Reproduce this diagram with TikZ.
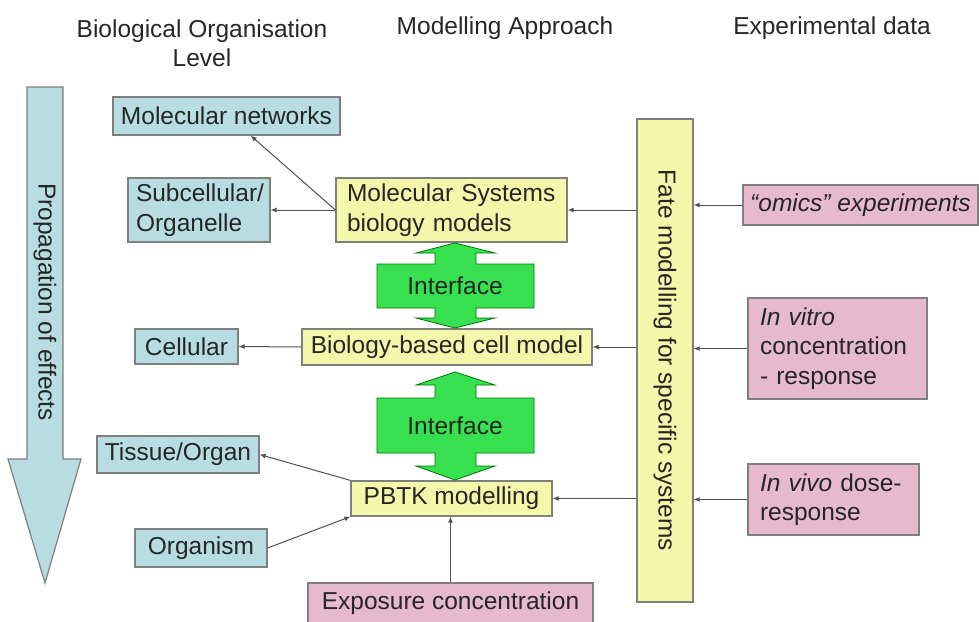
\documentclass[tikz,border=0pt]{standalone}
\usepackage{fontspec}
\setmainfont{Liberation Sans}
\usetikzlibrary{arrows.meta,positioning}
\definecolor{boxblue}{HTML}{B7DDE2}
\definecolor{boxyellow}{HTML}{F4F6AA}
\definecolor{boxpink}{HTML}{E6B9CD}
\definecolor{ifgreen}{HTML}{36E04F}
\definecolor{edgegray}{HTML}{7F7F7F}
\definecolor{txt}{HTML}{262626}
\definecolor{linegray}{HTML}{505050}

\begin{document}
\begin{tikzpicture}[x=1pt,y=-1pt,
  every node/.style={font=\fontsize{24.5}{29.5}\selectfont, text=txt},
  level/.style={draw=edgegray, fill=boxblue, line width=1.2pt, inner sep=0pt},
  model/.style={draw=edgegray, fill=boxyellow, line width=1.2pt, inner sep=0pt},
  data/.style={draw=edgegray, fill=boxpink, line width=1.2pt, inner sep=0pt},
  iface/.style={draw=green!45!black, fill=ifgreen, line width=0.8pt},
  link/.style={draw=linegray, line width=1pt, -{Latex[length=6pt,width=5pt]}}]
\useasboundingbox (0,0) rectangle (979,621);
% column headings
\node[align=center] (hlevel) at (202,43) {Biological Organisation\\Level};
\node (hmodel) at (505,28) {Modelling Approach};
\node (hdata) at (832,28) {Experimental data};
% propagation arrow
\draw[draw=edgegray, fill=boxblue, line width=1.2pt] (27,87) -- (63,87) -- (63,459) -- (81,459)
  -- (45,583) -- (8,459) -- (27,459) -- cycle;
\node[rotate=-90] (prop) at (45,302) {Propagation of effects};
% levels
\node[level, minimum width=227, minimum height=38] (molnet) at (226.5,116) {Molecular networks};
\node[level, minimum width=142, minimum height=64, text width=126, align=left] (subcell) at (199,210) {Subcellular/\\Organelle};
\node[level, minimum width=103, minimum height=35] (cellular) at (186.5,346.5) {Cellular};
\node[level, minimum width=162, minimum height=37] (tissue) at (178,454.5) {Tissue/Organ};
\node[level, minimum width=132, minimum height=38] (organism) at (201,548) {Organism};
% models
\node[model, minimum width=231, minimum height=64, text width=209, align=left] (molsys) at (451.5,210) {Molecular Systems\\biology models};
\node[model, minimum width=290, minimum height=36] (cellmod) at (447,347) {Biology-based cell model};
\node[model, minimum width=201, minimum height=35] (pbtk) at (451.5,498.5) {PBTK modelling};
% rotated: south is the left side, north the right side
\node[model, rotate=-90, minimum width=483, minimum height=56] (fate) at (665,360.5) {Fate modelling for specific systems};
% interfaces
\draw[iface] (455,243) -- (495,253) -- (476,253) -- (476,264) -- (534,264) -- (534,308) -- (476,308)
  -- (476,318) -- (495,318) -- (455,328) -- (416,318) -- (435,318) -- (435,308) -- (377,308)
  -- (377,264) -- (435,264) -- (435,253) -- (416,253) -- cycle;
\node (if1) at (455,286) {Interface};
\draw[iface] (455,372) -- (495,385) -- (476,385) -- (476,398) -- (534,398) -- (534,453) -- (476,453)
  -- (476,466) -- (495,466) -- (455,480) -- (416,466) -- (435,466) -- (435,453) -- (377,453)
  -- (377,398) -- (435,398) -- (435,385) -- (416,385) -- cycle;
\node (if2) at (455,426) {Interface};
% data
\node[data, minimum width=235, minimum height=40, inner xsep=0pt] (omics) at (860.5,205) {\itshape “omics” experiments};
\node[data, minimum width=179, minimum height=101, text width=155, align=left] (invitro) at (837.5,348.5) {\textit{In vitro}\\concentration\\- response};
\node[data, minimum width=171, minimum height=71, text width=147, align=left] (invivo) at (833.5,499.5) {\textit{In vivo} dose-\\response};
\node[data, minimum width=285, minimum height=40] (expo) at (450.5,603) {Exposure concentration};
% connectors
\draw[link] (molsys.west) -- (molnet.-39);
\draw[link] (molsys.west) -- (subcell.east);
\draw[link] (cellmod.west) -- (cellular.east);
\draw[link] (pbtk.north west) -- (tissue.east);
\draw[link] (organism.east) -- (pbtk.south west);
\draw[link] (expo.north) -- (expo.north |- pbtk.south);
\draw[link] (fate.south |- molsys.east) -- (molsys.east);
\draw[link] (fate.south |- cellmod.east) -- (cellmod.east);
\draw[link] (fate.south |- pbtk.east) -- (pbtk.east);
\draw[link] (omics.west) -- (omics.west -| fate.north);
\draw[link] (invitro.west) -- (invitro.west -| fate.north);
\draw[link] (invivo.west) -- (invivo.west -| fate.north);
\end{tikzpicture}
\end{document}
